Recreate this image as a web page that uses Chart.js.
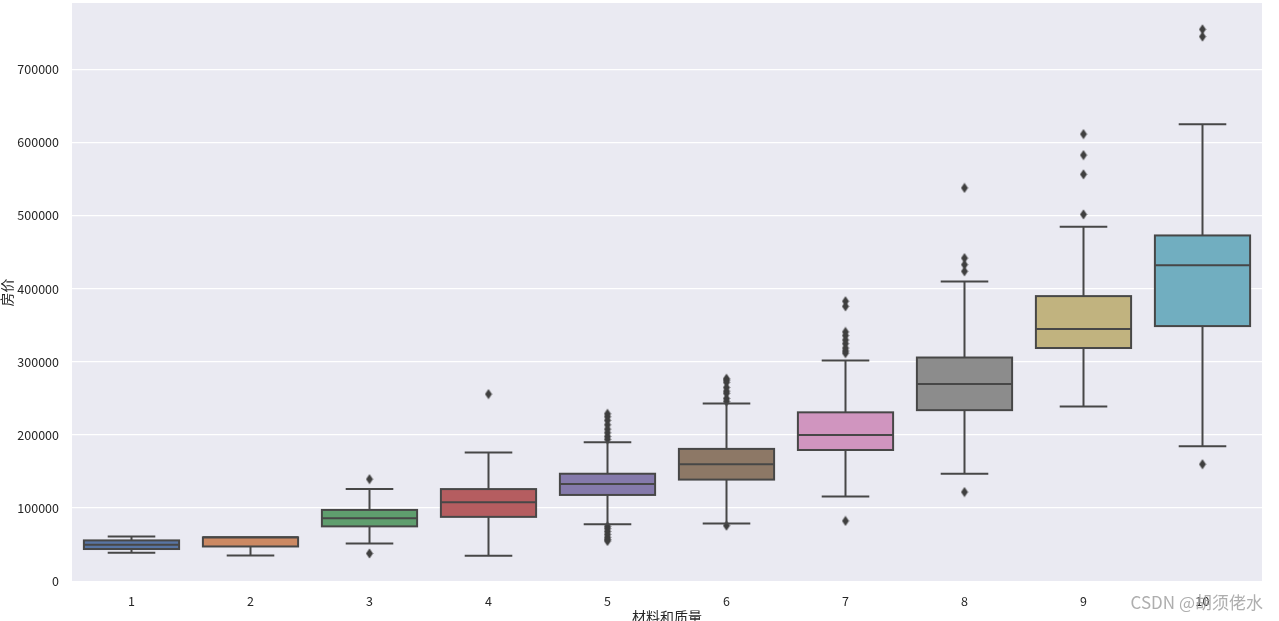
<!DOCTYPE html>
<html>
<head>
<meta charset="utf-8">
<script src="https://cdn.jsdelivr.net/npm/chart.js@4"></script>
<style>
  html, body { margin: 0; padding: 0; background: #ffffff; }
  #wrap { width: 1279px; height: 621px; position: relative; }
</style>
</head>
<body>
<div id="wrap"><canvas id="myChart"></canvas></div>
<script>
// box plot of 房价 by 材料和质量
const categories = ['1', '2', '3', '4', '5', '6', '7', '8', '9', '10'];
const q1 = [44000, 47500, 75000, 88000, 118000, 139000, 179500, 234000, 319000, 349000];
const medians = [50000, 60000, 86000, 108000, 133000, 160000, 200000, 269750, 345000, 432400];
const q3 = [55800, 60000, 97500, 126000, 147000, 181000, 231000, 306000, 390000, 473000];
const whiskerLow = [39000, 35311, 51700, 34900, 78000, 79000, 116000, 147000, 239000, 184750];
const whiskerHigh = [61000, 60000, 126000, 176000, 190000, 243000, 302000, 410000, 485000, 625000];
const outliers = [
  [],
  [],
  [139600, 37900],
  [256000],
  [229000, 225000, 220000, 214000, 208000, 203000, 198000, 194000, 75000, 72000, 68000, 64000, 60000, 57000, 55000],
  [277000, 275000, 272000, 265000, 260000, 257000, 250000, 246000, 76000],
  [383000, 376000, 341000, 336000, 330000, 325000, 319000, 315000, 312000, 82500],
  [538000, 442000, 433000, 424000, 122000],
  [611700, 582900, 556600, 501800],
  [755000, 745000, 160000]
];
const yTicks = [0, 100000, 200000, 300000, 400000, 500000, 600000, 700000];
const boxColors = ['#5875a4', '#cc8963', '#5f9e6e', '#b55d60', '#857aab', '#8d7866', '#d095bf', '#8c8c8c', '#c1b37f', '#71aec0'];

const lineColor = '#474747';
const tickFont = { family: '"Noto Sans CJK SC", "Noto Sans", sans-serif', size: 12.5 };

// thin diamond marker like matplotlib 'd'
const diamond = document.createElement('canvas');
diamond.width = 8;
diamond.height = 11;
(function() {
  const c = diamond.getContext('2d');
  c.fillStyle = '#3f3f3f';
  c.beginPath();
  c.moveTo(4, 0.5);
  c.lineTo(7.5, 5.5);
  c.lineTo(4, 10.5);
  c.lineTo(0.5, 5.5);
  c.closePath();
  c.fill();
})();

const outlierPoints = [];
outliers.forEach((list, i) => {
  list.forEach(v => outlierPoints.push({ x: categories[i], y: v }));
});

const boxPlugin = {
  id: 'boxParts',
  beforeDraw(chart) {
    const { ctx, chartArea } = chart;
    ctx.save();
    ctx.fillStyle = '#eaeaf2';
    ctx.fillRect(chartArea.left, chartArea.top, chartArea.right - chartArea.left, chartArea.bottom - chartArea.top);
    ctx.restore();
  },
  afterDatasetsDraw(chart) {
    const { ctx } = chart;
    const xs = chart.scales.x;
    const ys = chart.scales.y;
    const meta = chart.getDatasetMeta(0);
    ctx.save();
    ctx.strokeStyle = lineColor;
    ctx.lineWidth = 2;
    ctx.lineCap = 'butt';
    categories.forEach((c, i) => {
      const cx = xs.getPixelForValue(i);
      const bar = meta.data[i];
      const half = bar.width / 2;
      const capHalf = half / 2;
      const yQ1 = ys.getPixelForValue(q1[i]);
      const yQ3 = ys.getPixelForValue(q3[i]);
      const yMed = ys.getPixelForValue(medians[i]);
      const yLo = ys.getPixelForValue(whiskerLow[i]);
      const yHi = ys.getPixelForValue(whiskerHigh[i]);
      ctx.beginPath();
      // whiskers
      if (yHi < yQ3) {
        ctx.moveTo(cx, yQ3); ctx.lineTo(cx, yHi);
        ctx.moveTo(cx - capHalf, yHi); ctx.lineTo(cx + capHalf, yHi);
      }
      if (yLo > yQ1) {
        ctx.moveTo(cx, yQ1); ctx.lineTo(cx, yLo);
        ctx.moveTo(cx - capHalf, yLo); ctx.lineTo(cx + capHalf, yLo);
      }
      // median
      ctx.moveTo(cx - half, yMed); ctx.lineTo(cx + half, yMed);
      ctx.stroke();
      // box edge
      ctx.strokeRect(cx - half, yQ3, half * 2, yQ1 - yQ3);
    });
    ctx.restore();
  },
  afterDraw(chart) {
    const { ctx, chartArea } = chart;
    ctx.save();
    ctx.fillStyle = '#262626';
    ctx.font = '14px "Noto Sans CJK SC", sans-serif';
    ctx.textAlign = 'center';
    ctx.textBaseline = 'top';
    ctx.fillText('材料和质量', (chartArea.left + chartArea.right) / 2, 610);
    ctx.translate(7, (chartArea.top + chartArea.bottom) / 2);
    ctx.rotate(-Math.PI / 2);
    ctx.textBaseline = 'middle';
    ctx.fillText('房价', 0, 0);
    ctx.restore();

    ctx.save();
    ctx.fillStyle = 'rgba(160, 160, 160, 0.85)';
    ctx.font = '17px "Noto Sans CJK SC", sans-serif';
    ctx.textAlign = 'right';
    ctx.textBaseline = 'middle';
    ctx.fillText('CSDN @胡须佬水', 1263, 603);
    ctx.restore();
  }
};

const ctx = document.getElementById('myChart').getContext('2d');

new Chart(ctx, {
  type: 'bar',
  data: {
    labels: categories,
    datasets: [{
      label: 'box',
      data: categories.map((c, i) => [q1[i], q3[i]]),
      backgroundColor: boxColors,
      borderWidth: 0,
      barPercentage: 0.8,
      categoryPercentage: 1.0,
      order: 2
    }, {
      type: 'scatter',
      label: 'outliers',
      data: outlierPoints,
      pointStyle: diamond,
      pointRadius: 1,
      pointHoverRadius: 1,
      pointBorderWidth: 0,
      order: 1
    }]
  },
  options: {
    responsive: true,
    maintainAspectRatio: false,
    animation: false,
    layout: { padding: { left: 0, top: 3, right: 17, bottom: 0 } },
    plugins: {
      legend: { display: false },
      tooltip: { enabled: false }
    },
    scales: {
      x: {
        type: 'category',
        offset: true,
        grid: { display: false, drawTicks: false },
        border: { display: false },
        ticks: { color: '#262626', font: tickFont, padding: 12, maxRotation: 0 },
        afterFit: s => { s.height = 39; s.paddingLeft = 0; s.paddingRight = 0; }
      },
      y: {
        min: -1100,
        max: 791000,
        grid: { color: '#ffffff', lineWidth: 1.2, drawTicks: false },
        border: { display: false },
        ticks: { color: '#262626', font: tickFont, padding: 13, callback: v => String(v) },
        afterBuildTicks: axis => { axis.ticks = yTicks.map(v => ({ value: v })); },
        afterFit: s => { s.width = 72; s.paddingTop = 0; s.paddingBottom = 0; }
      }
    }
  },
  plugins: [boxPlugin]
});
</script>
</body>
</html>
